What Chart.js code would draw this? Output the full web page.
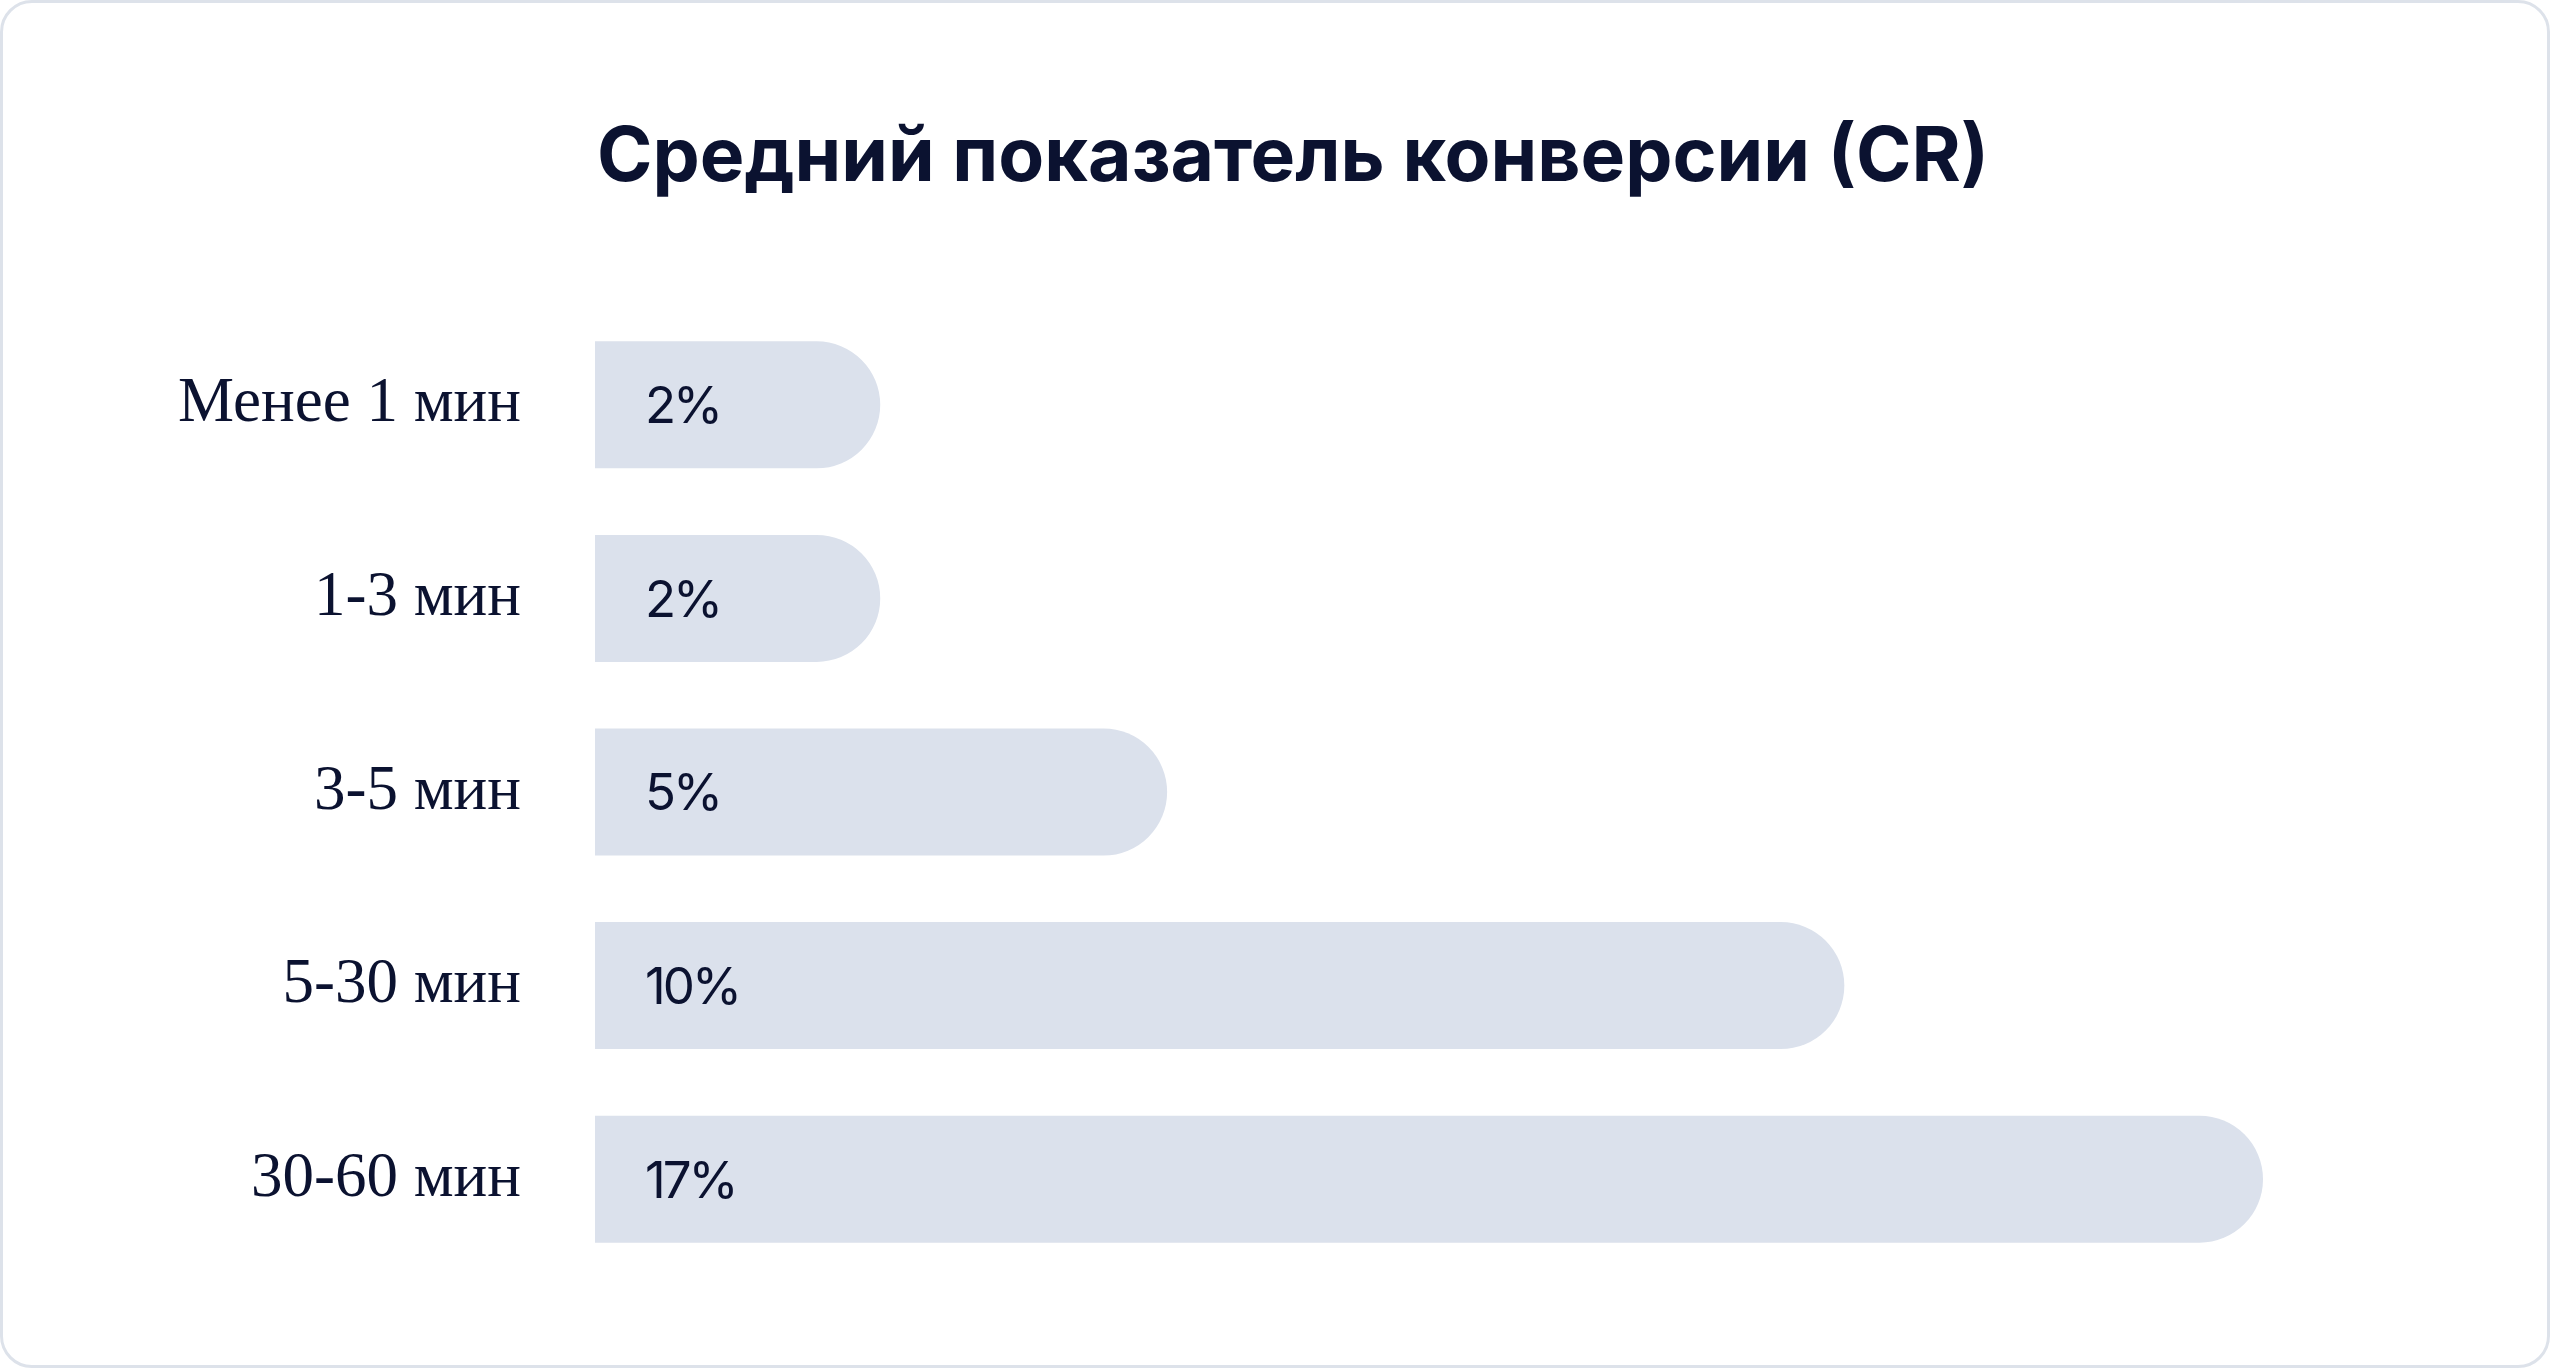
<!DOCTYPE html>
<html lang="ru">
<head>
<meta charset="utf-8">
<title>Средний показатель конверсии (CR)</title>
<script src="https://cdn.jsdelivr.net/npm/chart.js@4.4.1/dist/chart.umd.min.js"></script>
<style>
  html, body { margin: 0; padding: 0; background: #ffffff; }
  #card {
    position: absolute; left: 0; top: 0;
    width: 2550px; height: 1368px; box-sizing: border-box;
    border: 3px solid #dde2ea; border-radius: 32px; background: #ffffff;
  }
  #chart { position: absolute; left: 0; top: 0; }
</style>
</head>
<body>
<div id="card"></div>
<canvas id="chart" width="2550" height="1368"></canvas>
<script>
const title = 'Средний показатель конверсии (CR)';
const categories = ['Менее 1 мин', '1-3 мин', '3-5 мин', '5-30 мин', '30-60 мин'];
// conversion rate printed on each bar
const crValues = [2, 2, 5, 10, 17];
// bar length as drawn in the picture, % of the longest bar
const barLength = [17.1, 17.1, 34.3, 74.9, 100];

const ink = '#0b1230';

// title and value labels drawn on top of the chart
const labelsPlugin = {
    id: 'labels',
    afterDatasetsDraw(chart) {
        const ctx = chart.ctx;
        ctx.save();
        ctx.fillStyle = ink;
        ctx.font = '700 75px Inter';
        ctx.textAlign = 'center';
        ctx.textBaseline = 'alphabetic';
        ctx.fillText(title, 1293, 181);

        ctx.font = '400 51px Inter';
        ctx.letterSpacing = '-3px';
        ctx.textAlign = 'left';
        ctx.textBaseline = 'middle';
        const meta = chart.getDatasetMeta(0);
        meta.data.forEach((bar, i) => {
            ctx.fillText(crValues[i] + '%', bar.base + 50, bar.y + 3);
        });
        ctx.restore();
    }
};

new Chart(document.getElementById('chart'), {
    type: 'bar',
    data: {
        labels: categories,
        datasets: [{
            data: barLength,
            backgroundColor: '#dbe1ec',
            borderWidth: 0,
            borderRadius: 64,
            borderSkipped: 'start',
            barPercentage: 1,
            categoryPercentage: 0.656
        }]
    },
    options: {
        indexAxis: 'y',
        responsive: false,
        animation: false,
        layout: { padding: { left: 0, right: 287, top: 308, bottom: 92 } },
        plugins: {
            legend: { display: false },
            tooltip: { enabled: false },
            title: { display: false }
        },
        scales: {
            x: { display: false, min: 0, max: 100 },
            y: {
                grid: { display: false, drawTicks: false },
                border: { display: false },
                ticks: {
                    color: ink,
                    font: { family: 'Liberation Serif', size: 63 },
                    padding: 74
                },
                afterFit(scale) {
                    scale.width = 595;
                    // tick padding is meant horizontally only
                    scale.paddingTop = 0;
                    scale.paddingBottom = 0;
                }
            }
        }
    },
    plugins: [labelsPlugin]
});
</script>
</body>
</html>
